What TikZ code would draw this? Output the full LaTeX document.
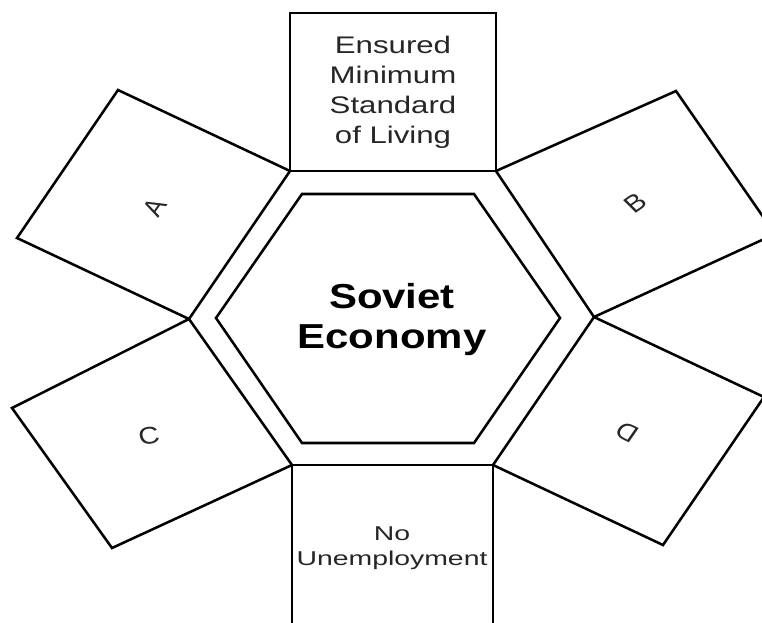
\documentclass[tikz,border=0pt]{standalone}
\usepackage{fontspec}
\setmainfont{Liberation Sans}
\begin{document}
\begin{tikzpicture}[x=0.75pt,y=-0.75pt,
  panel/.style={draw=black, line width=1.9pt, line join=miter},
  lbl/.style={text=black!85, inner sep=0pt},
  letter/.style={lbl, font=\fontsize{18}{20}\selectfont}]
\useasboundingbox (0,0) rectangle (762,622);
% outer hexagon corners (shared by the boxes)
\coordinate (TL) at (290,171);
\coordinate (TR) at (496,171);
\coordinate (R)  at (594,317);
\coordinate (BR) at (493,465);
\coordinate (BL) at (292,465);
\coordinate (L)  at (189,319);
% outer corners of the side boxes
\coordinate (A1) at (118,90);
\coordinate (A2) at (17,238);
\coordinate (B1) at (676,91);
\coordinate (B2) at (775,234);
\coordinate (C1) at (12,408);
\coordinate (C2) at (112,548);
\coordinate (D1) at (764,397);
\coordinate (D2) at (663,545);
\coordinate (T1) at (290,13);
\coordinate (T2) at (496,13);
\coordinate (U1) at (292,630);
\coordinate (U2) at (493,630);
% boxes
\draw[panel] (TL) -- (T1) -- (T2) -- (TR) -- cycle;
\draw[panel] (TL) -- (A1) -- (A2) -- (L) -- cycle;
\draw[panel] (TR) -- (B1) -- (B2) -- (R) -- cycle;
\draw[panel] (L) -- (C1) -- (C2) -- (BL) -- cycle;
\draw[panel] (R) -- (D1) -- (D2) -- (BR) -- cycle;
\draw[panel] (U1) -- (BL) -- (BR) -- (U2);
% inner hexagon
\draw[panel] (302,194) -- (474,194) -- (560,318) -- (474,443) -- (302,443) -- (216,318) -- cycle;
% texts
\node[lbl, xscale=1.3, align=center, font=\fontsize{18}{22.5}\selectfont] (top) at (393,92) {Ensured\\Minimum\\Standard\\of Living};
\node[lbl, text=black, xscale=1.21, align=center, font=\fontsize{26}{30}\selectfont\bfseries] (center) at (392,320) {Soviet\\Economy};
\node[lbl, xscale=1.42, align=center, font=\fontsize{15}{18.75}\selectfont] (bottom) at (392,548) {No\\Unemployment};
\node[letter, xscale=1.2, rotate=60] (a) at (155,207) {A};
\node[letter, xscale=1.2, rotate=40] (b) at (635,203) {B};
\node[letter, xscale=1.2, rotate=10] (c) at (149,436) {C};
\node[letter, xscale=1.2, rotate=150] (d) at (627,432) {D};
\end{tikzpicture}
\end{document}
